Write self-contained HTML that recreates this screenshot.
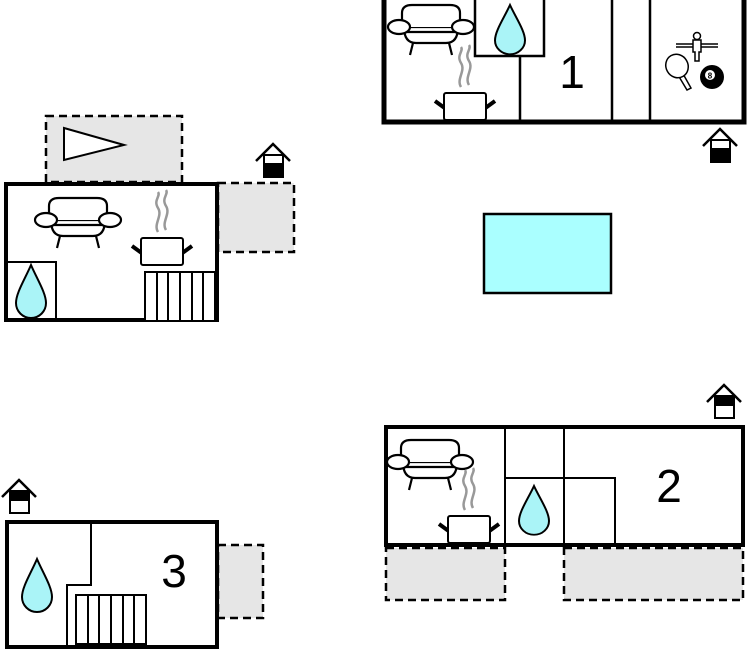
<!DOCTYPE html>
<html><head><meta charset="utf-8"><style>
html,body{margin:0;padding:0;background:#fff;width:747px;height:652px;overflow:hidden}
svg{display:block}
text{font-family:"Liberation Sans",sans-serif}
</style></head><body>
<svg width="747" height="652" viewBox="0 0 747 652" xmlns="http://www.w3.org/2000/svg">
<defs>
<g id="sofa" fill="#fff" stroke="#000" stroke-width="2.2">
 <path d="M25,40 L22,52 M61,40 L64,52"/>
 <path d="M16,24 Q16,40 28,40 H58 Q70,40 70,24 Z"/>
 <path d="M14,24 V10 Q14,2 24,2 H62 Q72,2 72,10 V24"/>
 <line x1="18" y1="29" x2="68" y2="29"/>
 <ellipse cx="11" cy="24" rx="11" ry="7"/>
 <ellipse cx="75" cy="24" rx="11" ry="7"/>
</g>
<g id="pot">
 <path d="M17,-6 C12,-14 22,-22 17,-30 C12,-38 20,-42 17,-46 M25,-8 C20,-16 30,-24 25,-32 C20,-40 28,-44 25,-48" fill="none" stroke="#999" stroke-width="2.5"/>
 <path d="M2,16 L-9,8 M40,16 L51,8" stroke="#000" stroke-width="4"/>
 <rect x="0" y="0" width="42" height="27" rx="2" fill="#fff" stroke="#000" stroke-width="2"/>
</g>
<path id="drop" d="M15,0 C9,14 0,28 0,38 A15,15 0 0 0 30,38 C30,28 21,14 15,0Z" fill="#aaf4f7" stroke="#000" stroke-width="2"/>
<g id="houseDown">
 <path d="M0,20 L17,3 L34,20" fill="none" stroke="#000" stroke-width="2.5"/>
 <rect x="8" y="14" width="19" height="22" fill="#fff" stroke="#000" stroke-width="2"/>
 <rect x="8" y="22" width="19" height="14" fill="#000"/>
</g>
<g id="houseUp">
 <path d="M0,20 L17,3 L34,20" fill="none" stroke="#000" stroke-width="2.5"/>
 <rect x="8" y="14" width="19" height="22" fill="#fff" stroke="#000" stroke-width="2"/>
 <rect x="8" y="14" width="19" height="10" fill="#000"/>
</g>
<g id="rad">
 <rect x="0" y="0" width="70" height="49" fill="#fff" stroke="#000" stroke-width="2"/>
 <path d="M12,0V49M23,0V49M35,0V49M47,0V49M58,0V49" stroke="#000" stroke-width="2"/>
</g>
</defs>

<!-- Unit 1 -->
<rect x="384" y="-4" width="360" height="126" fill="#fff" stroke="#000" stroke-width="5"/>
<path d="M475,0 V56 H544 V0 M520,56 V122 M612,0 V122 M650,0 V122" fill="none" stroke="#000" stroke-width="2.5"/>
<use href="#drop" transform="translate(495,5) scale(1,0.93)"/>
<use href="#sofa" x="388" y="3"/>
<use href="#pot" x="444" y="93"/>
<text x="572" y="88" font-size="46" text-anchor="middle">1</text>
<g stroke="#000" stroke-width="1.5" fill="#fff">
 <path d="M676,44 H718 M676,47 H718"/>
 <circle cx="697" cy="36" r="3.5"/>
 <path d="M693,40 H701 V52 H699 V61 H695 V52 H693 Z"/>
 <path d="M682,72 L691,88 L687,90 L678,75 Z"/>
 <ellipse cx="677" cy="66" rx="11" ry="12" transform="rotate(-30 677 66)"/>
</g>
<circle cx="712" cy="77" r="12" fill="#000"/>
<circle cx="710" cy="75" r="5" fill="#fff"/>
<text x="710" y="78.5" font-size="8" text-anchor="middle" font-weight="bold">8</text>
<use href="#houseDown" x="703" y="126"/>

<!-- Left unit -->
<rect x="46" y="116" width="136" height="66" fill="#e6e6e6" stroke="#000" stroke-width="2.5" stroke-dasharray="8,5"/>
<path d="M64,128 L124,145 L64,160 Z" fill="#fff" stroke="#000" stroke-width="2"/>
<rect x="218" y="183" width="76" height="69" fill="#e6e6e6" stroke="#000" stroke-width="2.5" stroke-dasharray="8,5"/>
<rect x="6" y="184" width="211" height="136" fill="#fff" stroke="#000" stroke-width="4"/>
<path d="M6,262 H56 V320" fill="none" stroke="#000" stroke-width="2"/>
<use href="#drop" transform="translate(16,265)"/>
<use href="#rad" x="145" y="272"/>
<use href="#sofa" x="35" y="196"/>
<use href="#pot" x="141" y="238"/>
<use href="#houseDown" x="256" y="141"/>

<!-- Pool -->
<rect x="484" y="214" width="127" height="79" fill="#aaffff" stroke="#000" stroke-width="2.5"/>

<!-- Unit 2 -->
<rect x="386" y="548" width="119" height="52" fill="#e6e6e6" stroke="#000" stroke-width="2.5" stroke-dasharray="8,5"/>
<rect x="564" y="548" width="179" height="52" fill="#e6e6e6" stroke="#000" stroke-width="2.5" stroke-dasharray="8,5"/>
<rect x="386" y="427" width="357" height="118" fill="#fff" stroke="#000" stroke-width="4"/>
<path d="M505,427 V545 M564,427 V545 M505,478 H615 V545" fill="none" stroke="#000" stroke-width="2"/>
<use href="#drop" transform="translate(519,486) scale(1,0.92)"/>
<use href="#sofa" x="387" y="438"/>
<use href="#pot" x="448" y="516"/>
<text x="669" y="502" font-size="46" text-anchor="middle">2</text>
<use href="#houseUp" x="707" y="382"/>

<!-- Unit 3 -->
<rect x="218" y="545" width="45" height="73" fill="#e6e6e6" stroke="#000" stroke-width="2.5" stroke-dasharray="8,5"/>
<rect x="7" y="522" width="210" height="125" fill="#fff" stroke="#000" stroke-width="4"/>
<path d="M91,522 V585 H67 V647" fill="none" stroke="#000" stroke-width="2"/>
<use href="#drop" transform="translate(22,559)"/>
<use href="#rad" x="76" y="595"/>
<text x="174" y="587" font-size="46" text-anchor="middle">3</text>
<use href="#houseUp" x="2" y="477"/>
</svg>
</body></html>
